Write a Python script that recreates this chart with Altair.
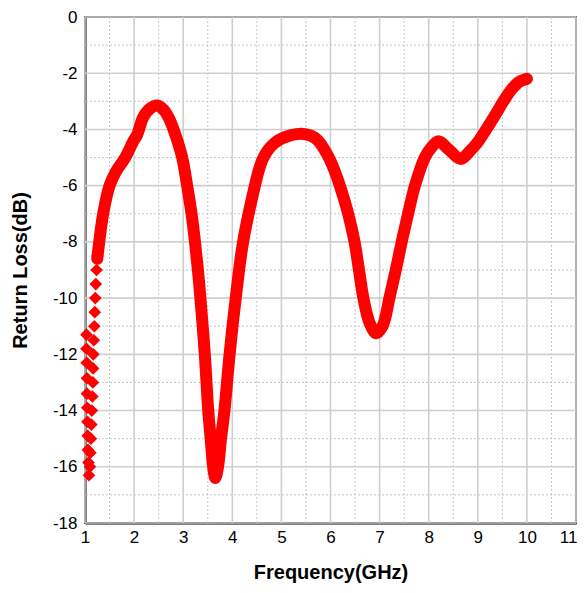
import altair as alt
import pandas as pd

# Steep start region (individual diamond markers)
start_freq = [1.03, 1.03, 1.035, 1.04, 1.04, 1.045, 1.05, 1.055, 1.06, 1.07, 1.08,
              1.10, 1.11, 1.12, 1.13, 1.14, 1.15, 1.16, 1.165, 1.17, 1.18, 1.19, 1.20, 1.21, 1.22, 1.235, 1.25]
start_rl = [-11.3, -11.8, -12.3, -12.85, -13.4, -13.9, -14.4, -14.9, -15.4, -15.85, -16.3,
            -16.0, -15.5, -15.0, -14.5, -14.0, -13.5, -13.0, -12.5, -12.0, -11.5, -11.0, -10.5, -10.0, -9.5, -9.0, -8.5]

# Main curve
freq = [1.25, 1.29, 1.37, 1.50, 1.63, 1.82, 1.99, 2.06, 2.19, 2.33,
        2.47, 2.60, 2.71, 2.82, 2.98, 3.08, 3.17, 3.24, 3.30, 3.35,
        3.44, 3.51, 3.56, 3.61, 3.655, 3.71, 3.77, 3.84, 3.945, 4.07,
        4.22, 4.46, 4.54, 4.62, 4.72, 4.85, 5.0, 5.2, 5.4, 5.6, 5.75, 5.87,
        5.98, 6.09, 6.19, 6.36, 6.49, 6.58, 6.67, 6.80, 6.93, 7.06,
        7.20, 7.33, 7.45, 7.58, 7.72, 7.92, 8.05, 8.20, 8.40, 8.65,
        8.85, 9.00, 9.17, 9.35, 9.52, 9.70, 9.85, 10.0]
rl = [-8.6, -8.0, -7.0, -6.0, -5.5, -5.0, -4.4, -4.2, -3.55, -3.25,
      -3.15, -3.3, -3.6, -4.08, -5.0, -6.0, -7.0, -8.0, -9.0, -10.0,
      -12.0, -14.0, -15.0, -16.0, -16.4, -16.0, -15.0, -14.0, -12.0, -10.0,
      -8.0, -6.0, -5.45, -5.05, -4.75, -4.5, -4.33, -4.2, -4.15, -4.22, -4.4, -4.7,
      -5.05, -5.5, -6.0, -7.0, -8.0, -9.0, -10.0, -10.9, -11.25, -11.0,
      -10.0, -9.0, -8.0, -7.0, -6.0, -5.0, -4.65, -4.42, -4.7, -5.05,
      -4.75, -4.45, -4.0, -3.5, -3.0, -2.55, -2.3, -2.2]

x_major = [1, 2, 3, 4, 5, 6, 7, 8, 9, 10, 11]
x_minor = [1.5, 2.5, 3.5, 4.5, 5.5, 6.5, 7.5, 8.5, 9.5, 10.5]
y_major = [-18, -16, -14, -12, -10, -8, -6, -4, -2, 0]
y_minor = [-17, -15, -13, -11, -9, -7, -5, -3, -1]

main_df = pd.DataFrame({"f": freq, "rl": rl})
start_df = pd.DataFrame({"f": start_freq, "rl": start_rl})

FONT = "Liberation Sans"

xs = alt.Scale(domain=[1, 11], nice=False, zero=False)
ys = alt.Scale(domain=[-18, 0], nice=False, zero=False)

x_axis = alt.Axis(
    title="Frequency(GHz)", values=x_major, format="d",
    labelFont=FONT, labelFontSize=17, labelColor="black", labelPadding=6,
    labelAlign={"condition": {"test": "datum.value >= 11", "value": "right"}, "value": "center"},
    labelOffset={"condition": {"test": "datum.value >= 11", "value": 1}, "value": 0},
    titleFont=FONT, titleFontSize=20, titleFontWeight="bold", titleColor="black",
    titlePadding=17, ticks=False, grid=False,
    domainColor="black", domainWidth=2, labelFlush=False,
)
y_axis = alt.Axis(
    title="Return Loss(dB)", values=y_major,
    labelExpr="'' + datum.value",
    labelFont=FONT, labelFontSize=17, labelColor="black", labelPadding=8,
    titleFont=FONT, titleFontSize=20, titleFontWeight="bold", titleColor="black",
    titlePadding=22, ticks=False, grid=False,
    domainColor="black", domainWidth=2, labelFlush=False,
)

def X(field):
    return alt.X(field, scale=xs, axis=x_axis)

def Y(field):
    return alt.Y(field, scale=ys, axis=y_axis)

xmin_rules = alt.Chart(pd.DataFrame({"v": x_minor})).mark_rule(
    color="#c4c4c4", strokeWidth=1, strokeDash=[2, 2]
).encode(x=X("v:Q"))
ymin_rules = alt.Chart(pd.DataFrame({"v": y_minor})).mark_rule(
    color="#c4c4c4", strokeWidth=1, strokeDash=[2, 2]
).encode(y=Y("v:Q"))
xmaj_rules = alt.Chart(pd.DataFrame({"v": x_major})).mark_rule(
    color="#cfcfcf", strokeWidth=1.6
).encode(x=X("v:Q"))
ymaj_rules = alt.Chart(pd.DataFrame({"v": y_major})).mark_rule(
    color="#cfcfcf", strokeWidth=1.6
).encode(y=Y("v:Q"))

line = alt.Chart(main_df).mark_line(
    color="#ff0000", strokeWidth=12, strokeCap="round", strokeJoin="round",
    interpolate="catmull-rom"
).encode(x=X("f:Q"), y=Y("rl:Q"))

pts = alt.Chart(start_df).mark_point(
    shape="diamond", filled=True, color="#ff0000", opacity=1, size=160
).encode(x=X("f:Q"), y=Y("rl:Q"))

chart = alt.layer(xmin_rules, ymin_rules, xmaj_rules, ymaj_rules, line, pts).properties(
    width=491, height=506,
    autosize=alt.AutoSizeParams(type="none"),
    padding={"left": 77, "top": 9, "right": 2, "bottom": 61},
).configure_view(
    stroke="black", strokeWidth=1.5
)

chart.save("out.html", embed_options={"renderer": "svg", "actions": False})
